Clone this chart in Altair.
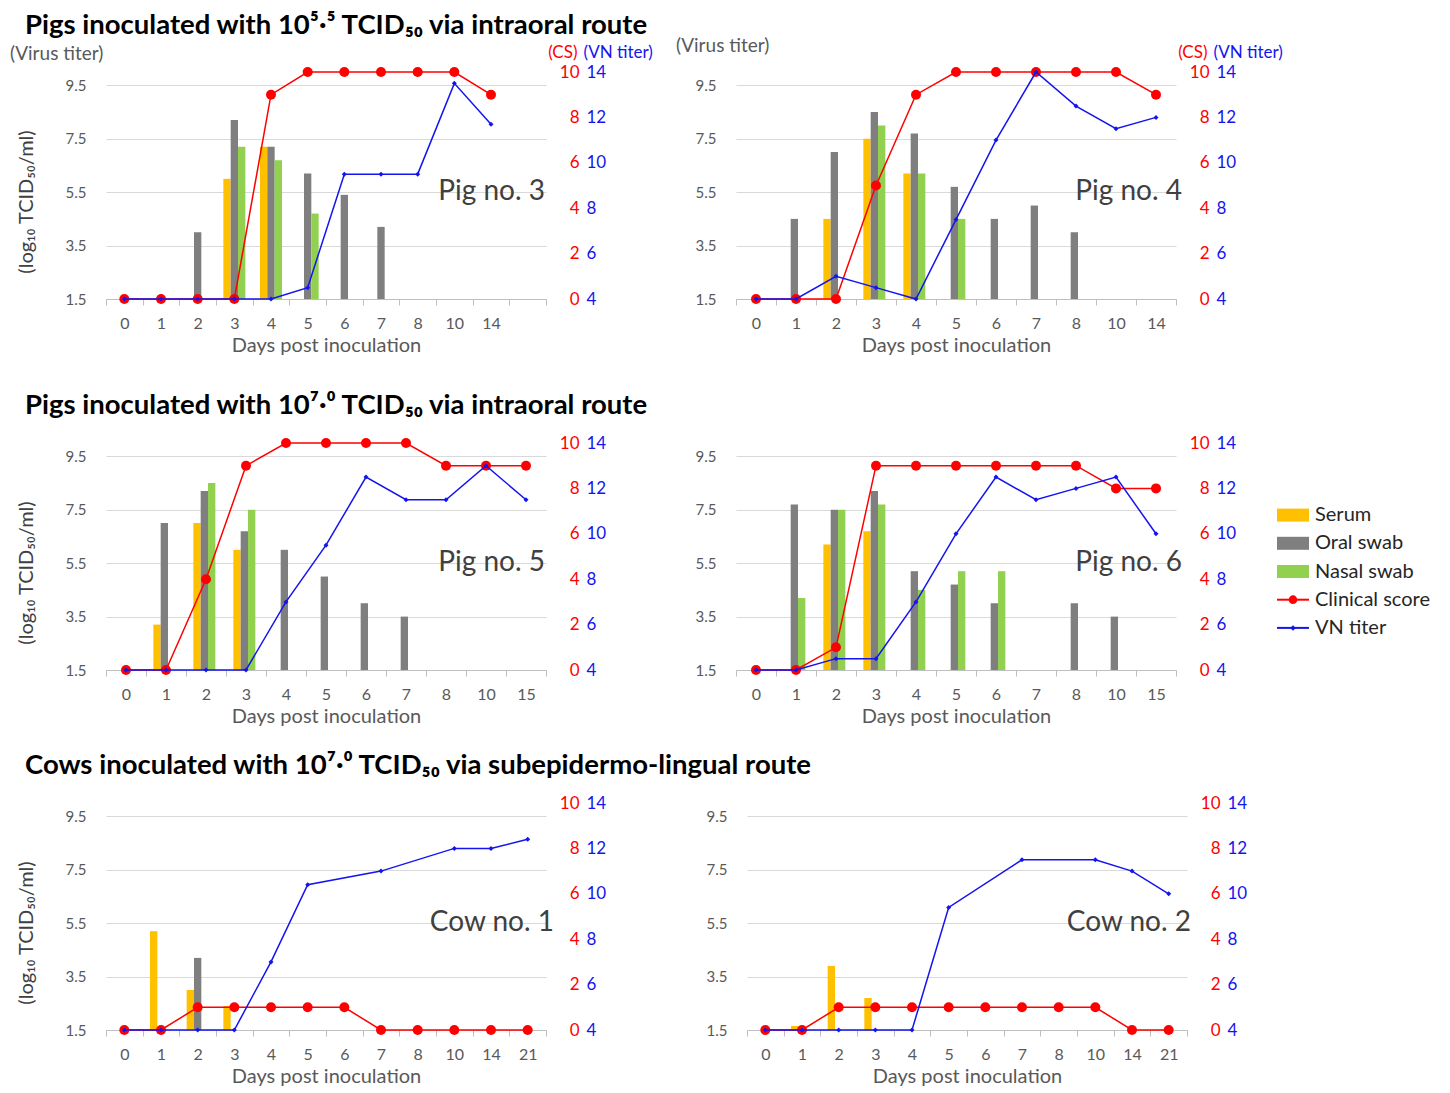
import altair as alt
import pandas as pd

FONT = "Lato"
SOURCES = ["Serum", "Oral swab", "Nasal swab"]
RED = "#FF0000"
BLUE = "#1414F0"
LEGEND_NAMES = ["Serum", "Oral swab", "Nasal swab", "Clinical score", "VN titer"]
LEGEND_COLORS = ["#FFC000", "#7F7F7F", "#92D050", "#FF0000", "#1414F0"]

TITLE_1 = "Pigs inoculated with 10⁵·⁵ TCID₅₀ via intraoral route"
TITLE_2 = "Pigs inoculated with 10⁷·⁰ TCID₅₀ via intraoral route"
TITLE_3 = "Cows inoculated with 10⁷·⁰ TCID₅₀ via subepidermo-lingual route"
Y_TITLE = "(log₁₀ TCID₅₀/ml)"

Y_TICKS = [1.5, 3.5, 5.5, 7.5, 9.5]
CS_TICKS = [0, 2, 4, 6, 8, 10]
VN_TICKS = [4, 6, 8, 10, 12, 14]

PIG_DAYS_A = ["0", "1", "2", "3", "4", "5", "6", "7", "8", "10", "14"]
PIG_DAYS_B = ["0", "1", "2", "3", "4", "5", "6", "7", "8", "10", "15"]
COW_DAYS = ["0", "1", "2", "3", "4", "5", "6", "7", "8", "10", "14", "21"]

N = None
PIG3_SERUM = [N, N, N, 6.0, 7.2, N, N, N, N, N, N]
PIG3_ORAL = [N, N, 4.0, 8.2, 7.2, 6.2, 5.4, 4.2, N, N, N]
PIG3_NASAL = [N, N, N, 7.2, 6.7, 4.7, N, N, N, N, N]
PIG3_CS = [0, 0, 0, 0, 9, 10, 10, 10, 10, 10, 9]
PIG3_VN = [4, 4, 4, 4, 4, 4.5, 9.5, 9.5, 9.5, 13.5, 11.7]

PIG4_SERUM = [N, N, 4.5, 7.5, 6.2, N, N, N, N, N, N]
PIG4_ORAL = [N, 4.5, 7.0, 8.5, 7.7, 5.7, 4.5, 5.0, 4.0, N, N]
PIG4_NASAL = [N, N, N, 8.0, 6.2, 4.5, N, N, N, N, N]
PIG4_CS = [0, 0, 0, 5, 9, 10, 10, 10, 10, 10, 9]
PIG4_VN = [4, 4, 5, 4.5, 4, 7.5, 11, 14, 12.5, 11.5, 12]

PIG5_SERUM = [N, 3.2, 7.0, 6.0, N, N, N, N, N, N, N]
PIG5_ORAL = [N, 7.0, 8.2, 6.7, 6.0, 5.0, 4.0, 3.5, N, N, N]
PIG5_NASAL = [N, N, 8.5, 7.5, N, N, N, N, N, N, N]
PIG5_CS = [0, 0, 4, 9, 10, 10, 10, 10, 9, 9, 9]
PIG5_VN = [4, 4, 4, 4, 7, 9.5, 12.5, 11.5, 11.5, 13, 11.5]

PIG6_SERUM = [N, N, 6.2, 6.7, N, N, N, N, N, N, N]
PIG6_ORAL = [N, 7.7, 7.5, 8.2, 5.2, 4.7, 4.0, N, 4.0, 3.5, N]
PIG6_NASAL = [N, 4.2, 7.5, 7.7, 4.5, 5.2, 5.2, N, N, N, N]
PIG6_CS = [0, 0, 1, 9, 9, 9, 9, 9, 9, 8, 8]
PIG6_VN = [4, 4, 4.5, 4.5, 7, 10, 12.5, 11.5, 12, 12.5, 10]

COW1_SERUM = [N, 5.2, 3.0, 2.4, N, N, N, N, N, N, N, N]
COW1_ORAL = [N, N, 4.2, N, N, N, N, N, N, N, N, N]
COW1_NASAL = [N, N, N, N, N, N, N, N, N, N, N, N]
COW1_CS = [0, 0, 1, 1, 1, 1, 1, 0, 0, 0, 0, 0]
COW1_VN = [4, 4, 4, 4, 7, 10.4, N, 11, N, 12, 12, 12.4]

COW2_SERUM = [N, 1.65, 3.9, 2.7, N, N, N, N, N, N, N, N]
COW2_ORAL = [N, N, N, N, N, N, N, N, N, N, N, N]
COW2_NASAL = [N, N, N, N, N, N, N, N, N, N, N, N]
COW2_CS = [0, 0, 1, 1, 1, 1, 1, 1, 1, 1, 0, 0]
COW2_VN = [4, 4, 4, 4, 4, 9.4, N, 11.5, N, 11.5, 11, 10]

W, H = 440, 227
AXIS_GRAY = "#BFBFBF"
GRID = "#D9D9D9"
LBL = "#595959"
COLOR_SCALE = alt.Scale(domain=LEGEND_NAMES, range=LEGEND_COLORS)


def x_enc(domain):
    return alt.X(
        "day:N", sort=domain,
        scale=alt.Scale(domain=domain, paddingInner=0, paddingOuter=0),
        axis=alt.Axis(title="Days post inoculation", labelAngle=0, tickBand="extent",
                      tickSize=6, tickColor=AXIS_GRAY, domainColor=AXIS_GRAY,
                      labelFont=FONT, labelFontSize=16, labelColor=LBL, labelPadding=10,
                      titleFont=FONT, titleFontSize=20, titleFontWeight="normal",
                      titleColor=LBL, titlePadding=4, grid=False))


def panel(days, domain, serum, oral, nasal, cs, vn, label, label_dx, top_row, left_col):
    recs = []
    for i, d in enumerate(days):
        for src, arr in zip(SOURCES, (serum, oral, nasal)):
            if arr[i] is not None:
                recs.append({"day": d, "source": src, "titer": arr[i]})
    bars_df = pd.DataFrame(recs)
    cs_df = pd.DataFrame([{"day": d, "cs": v} for d, v in zip(days, cs) if v is not None])
    vn_df = pd.DataFrame([{"day": d, "vn": v} for d, v in zip(days, vn) if v is not None])
    x = x_enc(domain)

    yax = dict(values=Y_TICKS, format=".1f", domain=False, ticks=False, tickSize=0,
               grid=True, gridColor=GRID, gridWidth=1, labelFont=FONT, labelFontSize=15,
               labelColor=LBL, labelPadding=20)
    if left_col:
        yax.update(title=Y_TITLE, titleFont=FONT, titleFontSize=20, titleFontWeight="normal",
                   titleColor="#404040", titleX=-80, titleY=H / 2 + 16, titleAngle=270,
                   titleAlign="center", titleBaseline="middle")
    else:
        yax["title"] = None

    bars = alt.Chart(bars_df).mark_bar().encode(
        x=x,
        xOffset=alt.XOffset("source:N", sort=SOURCES,
                            scale=alt.Scale(domain=SOURCES, paddingInner=0, paddingOuter=1.0)),
        y=alt.Y("titer:Q", scale=alt.Scale(domain=[1.5, 10], nice=False, zero=False),
                axis=alt.Axis(**yax)),
        y2=alt.datum(1.5),
        color=alt.Color("source:N", scale=COLOR_SCALE, legend=None),
    )
    lab = alt.Chart(pd.DataFrame({"t": [label]})).mark_text(
        align="right", baseline="middle", font=FONT, fontSize=28, color="#404040"
    ).encode(text="t:N", x=alt.value(W + label_dx), y=alt.datum(5.5))
    inner = [bars, lab]
    if left_col or top_row:
        vt = alt.Chart(pd.DataFrame({"t": ["(Virus titer)"]})).mark_text(
            align="left", baseline="middle", font=FONT, fontSize=19, color=LBL,
            opacity=1 if top_row else 0
        ).encode(text="t:N", x=alt.value(-96 if left_col else -60),
                 y=alt.value(-18 if left_col else -26))
        inner.append(vt)

    csax = dict(orient="right", values=CS_TICKS, domain=False, ticks=False, tickSize=0,
                grid=False, labelAlign="right", labelPadding=33, labelColor=RED,
                labelFont=FONT, labelFontSize=17)
    vnax = dict(orient="right", values=VN_TICKS, domain=False, ticks=False, tickSize=0,
                grid=False, labelAlign="left", labelPadding=40, labelColor=BLUE,
                labelFont=FONT, labelFontSize=17)
    if top_row:
        csax.update(title="(CS)", titleColor=RED, titleFont=FONT, titleFontSize=17,
                    titleFontWeight="normal", titleAngle=0, titleAlign="right",
                    titleBaseline="middle", titleX=31, titleY=-20)
        vnax.update(title="(VN titer)", titleColor=BLUE, titleFont=FONT, titleFontSize=17,
                    titleFontWeight="normal", titleAngle=0, titleAlign="left",
                    titleBaseline="middle", titleX=37, titleY=-20)
    else:
        csax["title"] = None
        vnax["title"] = None

    cs_layer = alt.Chart(cs_df).mark_line(
        color=RED, strokeWidth=1.5,
        point=alt.OverlayMarkDef(filled=True, color=RED, size=100, shape="circle")
    ).encode(x=x, y=alt.Y("cs:Q", scale=alt.Scale(domain=[0, 10], nice=False),
                          axis=alt.Axis(**csax)))
    vn_layer = alt.Chart(vn_df).mark_line(
        color=BLUE, strokeWidth=1.5,
        point=alt.OverlayMarkDef(filled=True, color=BLUE, size=25, shape="diamond")
    ).encode(x=x, y=alt.Y("vn:Q", scale=alt.Scale(domain=[4, 14], nice=False),
                          axis=alt.Axis(**vnax)))

    return alt.layer(alt.layer(*inner), cs_layer, vn_layer).resolve_scale(
        y="independent").properties(width=W, height=H)


def legend_chart():
    df = pd.DataFrame({"source": LEGEND_NAMES,
                       "kind": ["bar", "bar", "bar", "line", "line"]})
    ly = alt.Y("source:N", sort=LEGEND_NAMES,
               scale=alt.Scale(domain=LEGEND_NAMES, range=[58, 199], paddingInner=0, paddingOuter=0),
               axis=None)
    col = alt.Color("source:N", scale=COLOR_SCALE, legend=None)
    base = alt.Chart(df)
    rects = base.transform_filter(alt.datum.kind == "bar").mark_tick(
        orient="horizontal", size=32, thickness=13, opacity=1).encode(y=ly, x=alt.value(16), color=col)
    lines = base.transform_filter(alt.datum.kind == "line").mark_tick(
        orient="horizontal", size=32, thickness=2, opacity=1).encode(y=ly, x=alt.value(16), color=col)
    pts = base.transform_filter(alt.datum.kind == "line").mark_point(filled=True, opacity=1).encode(
        y=ly, x=alt.value(16), color=col,
        shape=alt.Shape("source:N", scale=alt.Scale(domain=["Clinical score", "VN titer"],
                                                     range=["circle", "diamond"]), legend=None),
        size=alt.Size("source:N", scale=alt.Scale(domain=["Clinical score", "VN titer"],
                                                   range=[75, 30]), legend=None))
    txt = base.mark_text(align="left", baseline="middle", font=FONT, fontSize=20,
                         color="#262626").encode(y=ly, x=alt.value(38), text="source:N")
    return alt.layer(rects, lines, pts, txt).properties(width=160, height=H)


def title(t, off):
    return alt.Title(t, anchor="start", font=FONT, fontSize=27.5, fontWeight="bold",
                     color="#000000", dx=15, offset=off)


p3 = panel(PIG_DAYS_A, PIG_DAYS_A + [" "], PIG3_SERUM, PIG3_ORAL, PIG3_NASAL, PIG3_CS, PIG3_VN,
           "Pig no. 3", -1, True, True)
p4 = panel(PIG_DAYS_A, PIG_DAYS_A, PIG4_SERUM, PIG4_ORAL, PIG4_NASAL, PIG4_CS, PIG4_VN,
           "Pig no. 4", 6, True, False)
p5 = panel(PIG_DAYS_B, PIG_DAYS_B, PIG5_SERUM, PIG5_ORAL, PIG5_NASAL, PIG5_CS, PIG5_VN,
           "Pig no. 5", -1, False, True)
p6 = panel(PIG_DAYS_B, PIG_DAYS_B, PIG6_SERUM, PIG6_ORAL, PIG6_NASAL, PIG6_CS, PIG6_VN,
           "Pig no. 6", 6, False, False)
c1 = panel(COW_DAYS, COW_DAYS, COW1_SERUM, COW1_ORAL, COW1_NASAL, COW1_CS, COW1_VN,
           "Cow no. 1", 8, False, True)
c2 = panel(COW_DAYS, COW_DAYS, COW2_SERUM, COW2_ORAL, COW2_NASAL, COW2_CS, COW2_VN,
           "Cow no. 2", 4, False, False)

row1 = alt.hconcat(p3, p4, spacing=23, title=title(TITLE_1, -2))
row2 = alt.hconcat(p5, alt.hconcat(p6, legend_chart(), spacing=41), spacing=89,
                   title=title(TITLE_2, -3))
row3 = alt.hconcat(c1, c2, spacing=100, title=title(TITLE_3, -3))

chart = alt.vconcat(row1, alt.vconcat(row2, row3, spacing=25), spacing=36).properties(
    padding={"left": 2, "top": 3, "right": 2, "bottom": 2}
).configure_view(stroke=None)

chart.save("out.html", embed_options={"renderer": "svg", "actions": False})
